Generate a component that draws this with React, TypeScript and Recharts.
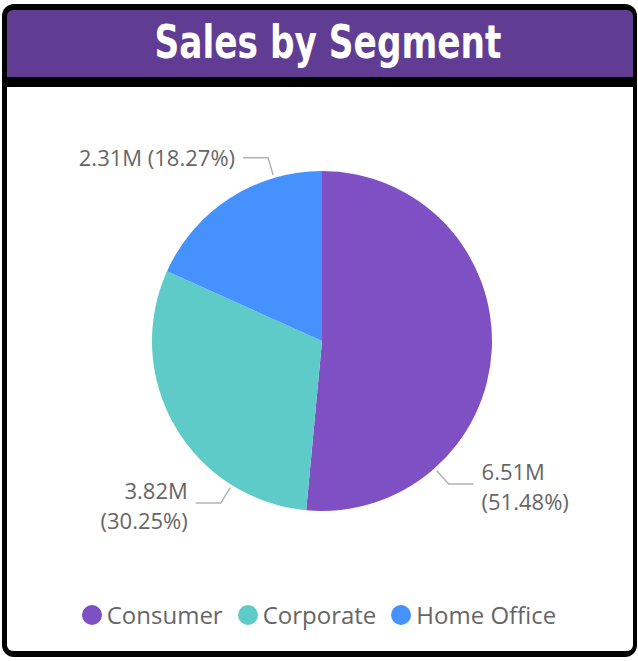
import { PieChart, Pie, Cell, Legend } from "recharts";

// sales by customer segment, in millions
const SEGMENTS = ["Consumer", "Corporate", "Home Office"];
const SALES_M = [6.5095, 3.8248, 2.3102];
const COLORS = ["#7F4FC4", "#5ECBC8", "#4592FF"];

// Power BI parks the leader lines at these angles, not at the slice middle
const LABEL_ANGLES = [-48.5, 238, 106.4];
const LABEL_WRAP = [true, true, false];

const data = SEGMENTS.map((name, i) => ({ name, value: SALES_M[i] }));

const LABEL_FONT = "'Open Sans', 'Noto Sans', sans-serif";

function renderLabel(props: any) {
  const { cx, cy, outerRadius, index, value, percent } = props;
  const a = (LABEL_ANGLES[index] * Math.PI) / 180;
  const cos = Math.cos(a);
  const sin = -Math.sin(a);
  const sx = cx + (outerRadius + 3) * cos;
  const sy = cy + (outerRadius + 3) * sin;
  const mx = cx + (outerRadius + 21) * cos;
  const my = cy + (outerRadius + 21) * sin;
  const right = cos >= 0;
  const ex = mx + (right ? 25 : -25);
  const tx = ex + (right ? 8 : -8);
  const anchor = right ? "start" : "end";
  const valText = `${value.toFixed(2)}M`;
  const pctText = `(${(percent * 100).toFixed(2)}%)`;

  return (
    <g>
      <polyline
        points={`${sx},${sy} ${mx},${my} ${ex},${my}`}
        fill="none"
        stroke="#b3b3b3"
        strokeWidth={1.5}
      />
      {LABEL_WRAP[index] ? (
        <>
          <text x={tx} y={my - 4} textAnchor={anchor} fill="#666" fontSize={22} fontFamily={LABEL_FONT}>
            {valText}
          </text>
          <text x={tx} y={my + 26} textAnchor={anchor} fill="#666" fontSize={22} fontFamily={LABEL_FONT}>
            {pctText}
          </text>
        </>
      ) : (
        <text x={tx} y={my + 8} textAnchor={anchor} fill="#666" fontSize={22} fontFamily={LABEL_FONT}>
          {`${valText} ${pctText}`}
        </text>
      )}
    </g>
  );
}

function SegmentLegend() {
  return (
    <div style={{ display: "flex", justifyContent: "center", alignItems: "center" }}>
      {SEGMENTS.map((name, i) => (
        <div
          key={name}
          style={{
            display: "flex",
            alignItems: "center",
            marginRight: i < SEGMENTS.length - 1 ? 15 : 0,
          }}
        >
          <span
            style={{
              width: 20,
              height: 20,
              borderRadius: "50%",
              background: COLORS[i],
              marginRight: 5,
              display: "inline-block",
            }}
          />
          <span style={{ fontFamily: LABEL_FONT, fontSize: 24, color: "#666", lineHeight: "30px" }}>
            {name}
          </span>
        </div>
      ))}
    </div>
  );
}

export default function App() {
  return (
    <div style={{ position: "absolute", left: 0, top: 0, width: 638, height: 661, background: "#fff" }}>
      <div
        style={{
          position: "absolute",
          left: 2,
          top: 4,
          width: 635,
          height: 653,
          background: "#000",
          borderRadius: 12,
        }}
      />
      <div
        style={{
          position: "absolute",
          left: 7,
          top: 10,
          width: 626,
          height: 67,
          background: "#603C92",
          borderRadius: "6px 6px 0 0",
        }}
      />
      <div
        style={{
          position: "absolute",
          left: 7,
          top: 87,
          width: 626,
          height: 564,
          background: "#fff",
          borderRadius: "0 0 6px 6px",
        }}
      />
      <div
        style={{
          position: "absolute",
          left: 0,
          top: 9,
          width: 656,
          height: 67,
          display: "flex",
          alignItems: "center",
          justifyContent: "center",
          color: "#fff",
          fontFamily: "'DejaVu Sans Condensed', 'DejaVu Sans', sans-serif",
          fontWeight: 700,
          fontSize: 46,
          lineHeight: "67px",
        }}
      >
        <span style={{ display: "inline-block", transform: "scaleX(0.83)" }}>Sales by Segment</span>
      </div>
      <div style={{ position: "absolute", left: 0, top: 0 }}>
        <PieChart width={638} height={661} margin={{ top: 0, right: 0, bottom: 0, left: 0 }}>
          <Pie
            data={data}
            dataKey="value"
            nameKey="name"
            cx={322}
            cy={341}
            outerRadius={170}
            startAngle={90}
            endAngle={-270}
            stroke="none"
            label={renderLabel}
            labelLine={false}
            isAnimationActive={false}
          >
            {data.map((d, i) => (
              <Cell key={d.name} fill={COLORS[i]} />
            ))}
          </Pie>
          <Legend
            content={() => <SegmentLegend />}
            wrapperStyle={{ position: "absolute", top: 600, left: 0, width: 638 }}
          />
        </PieChart>
      </div>
    </div>
  );
}
